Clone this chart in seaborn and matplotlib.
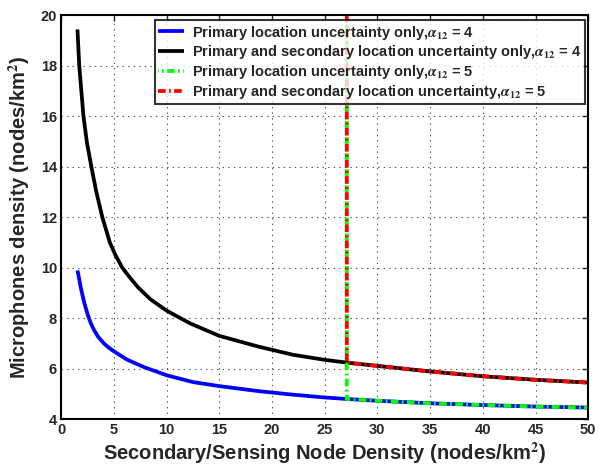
import numpy as np
import matplotlib
matplotlib.use("Agg")
import matplotlib.pyplot as plt
import seaborn as sns

# Data
blue_x = [1.56, 1.87, 2.19, 2.5, 2.8, 3.12, 3.5, 4.06, 4.5, 5.0, 6.25, 7.81, 10.0, 12.5, 15.0, 18.75, 22.0, 25.0, 27.1, 30.0, 35.0, 40.0, 45.0, 50.0]
blue_y = [9.89, 9.20, 8.62, 8.17, 7.82, 7.53, 7.27, 7.00, 6.84, 6.69, 6.36, 6.07, 5.74, 5.47, 5.31, 5.11, 4.97, 4.86, 4.80, 4.73, 4.63, 4.56, 4.50, 4.46]

black_x = [1.55, 1.72, 2.12, 2.45, 2.87, 3.34, 3.91, 4.62, 5.15, 5.8, 6.5, 7.3, 8.5, 10.0, 12.2, 15.0, 18.75, 22.0, 25.0, 27.1, 30.0, 35.0, 40.0, 45.0, 50.0]
black_y = [19.43, 18.0, 16.0, 14.95, 14.0, 13.0, 12.0, 11.0, 10.5, 10.0, 9.62, 9.22, 8.74, 8.30, 7.80, 7.30, 6.87, 6.55, 6.35, 6.24, 6.11, 5.89, 5.70, 5.56, 5.45]

green_x = [27.1, 27.1, 30.0, 35.0, 40.0, 45.0, 50.0]
green_y = [20.0, 4.80, 4.73, 4.63, 4.56, 4.50, 4.46]

red_x = [27.1, 27.1, 30.0, 35.0, 40.0, 45.0, 50.0]
red_y = [20.0, 6.24, 6.11, 5.89, 5.70, 5.56, 5.45]

labels = [
    "Primary location uncertainty only,$\\alpha_{12}$ = 4",
    "Primary and secondary location uncertainty only,$\\alpha_{12}$ = 4",
    "Primary location uncertainty only,$\\alpha_{12}$ = 5",
    "Primary and secondary location uncertainty,$\\alpha_{12}$ = 5",
]
x_ticks = [0, 5, 10, 15, 20, 25, 30, 35, 40, 45, 50]
y_ticks = [4, 6, 8, 10, 12, 14, 16, 18, 20]

sns.set_style("white")
plt.rcParams['font.family'] = ['Liberation Sans', 'DejaVu Sans']
plt.rcParams['font.weight'] = 'bold'
plt.rcParams['mathtext.fontset'] = 'stix'
plt.rcParams['lines.scale_dashes'] = False
plt.rcParams['lines.solid_capstyle'] = 'butt'

fig = plt.figure(figsize=(5.99, 4.71), dpi=100)
ax = fig.add_axes([0.102, 0.110, 0.880, 0.858])

series = [
    (blue_x, blue_y, "#0000ff", "-"),
    (black_x, black_y, "#000000", "-"),
    (green_x, green_y, "#00ff00", (5.0, (5.5, 2.4, 1.3, 2.4))),
    (red_x, red_y, "#ff0000", (0, (5.5, 2.4, 1.3, 2.4))),
]
for (xs, ys, c, ls), lab in zip(series, labels):
    sns.lineplot(x=xs, y=ys, ax=ax, color=c, linewidth=2.7, linestyle=ls,
                 estimator=None, sort=False, label=lab)

ax.set_xlim(0, 50)
ax.set_ylim(4, 20)
ax.set_xticks(x_ticks)
ax.set_yticks(y_ticks)
ax.tick_params(direction='in', top=True, right=True, length=4, width=1,
               labelsize=10.5, pad=3)
for t in ax.get_xticklabels() + ax.get_yticklabels():
    t.set_fontweight('bold')
ax.grid(True, linestyle=(0, (1, 3)), color='#555555', linewidth=0.8)
for sp in ax.spines.values():
    sp.set_linewidth(1.5)
    sp.set_color('black')

ax.set_xlabel("Secondary/Sensing Node Density (nodes/km$^2$)", fontsize=14.5,
              fontweight='bold', labelpad=2)
ax.set_ylabel("Microphones density (nodes/km$^2$)", fontsize=14.5,
              fontweight='bold', labelpad=6)

leg = ax.legend(loc='upper right', bbox_to_anchor=(0.993, 0.988), fontsize=10.5,
                frameon=True, fancybox=False, edgecolor='black',
                handlelength=1.8, handletextpad=0.5, labelspacing=0.12,
                borderpad=0.25, borderaxespad=0.0)
leg.get_frame().set_linewidth(1.5)
for t in leg.get_texts():
    t.set_fontweight('bold')

fig.savefig("out.png", dpi=100)
